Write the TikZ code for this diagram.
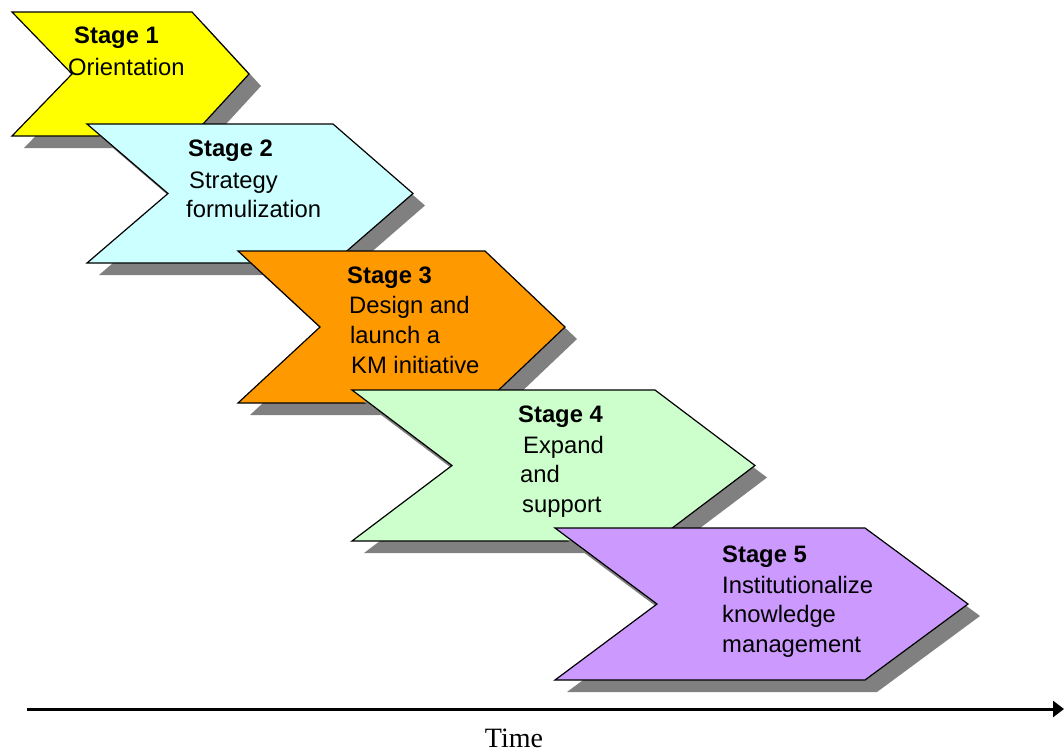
\documentclass[tikz,border=0pt]{standalone}
\usepackage{fontspec}
\setmainfont{Liberation Sans}
\newfontfamily\timefont{Liberation Serif}
\usetikzlibrary{arrows.meta}

\definecolor{stageone}{HTML}{FFFF00}
\definecolor{stagetwo}{HTML}{CCFFFF}
\definecolor{stagethree}{HTML}{FF9900}
\definecolor{stagefour}{HTML}{CCFFCC}
\definecolor{stagefive}{HTML}{CC99FF}
\definecolor{shadowgray}{HTML}{808080}

\tikzset{
  chevline/.style={draw=black, line width=1.2pt, line join=miter},
  chevshadow/.style={fill=shadowgray, shift={(12,12)}},
  stagetitle/.style={anchor=base west, inner sep=0pt, font=\fontsize{23.8}{28}\selectfont\bfseries},
  stageline/.style={anchor=base west, inner sep=0pt, font=\fontsize{23.8}{28}\selectfont},
  timeaxis/.style={line width=3pt, -{Triangle[length=11pt,width=16pt]}},
}

% #1 fill, #2 left, #3 notch, #4 right, #5 tip, #6 top, #7 bottom, #8 middle
\newcommand\stagechevron[8]{%
  \fill[chevshadow] (#2,#6) -- (#4,#6) -- (#5,#8) -- (#4,#7) -- (#2,#7) -- (#3,#8) -- cycle;
  \filldraw[fill=#1, chevline] (#2,#6) -- (#4,#6) -- (#5,#8) -- (#4,#7) -- (#2,#7) -- (#3,#8) -- cycle;
}

\begin{document}
\begin{tikzpicture}[x=1pt, y=-1pt]
  \useasboundingbox (0,0) rectangle (1064,753);

  % stage chevrons with drop shadows
  \stagechevron{stageone}{12}{72}{192}{249}{12}{136}{74}
  \stagechevron{stagetwo}{87}{168}{333}{413}{124}{263}{193.5}
  \stagechevron{stagethree}{238}{320}{485}{565}{251}{403}{327}
  \stagechevron{stagefour}{352}{452}{655}{755}{390}{541}{465.5}
  \stagechevron{stagefive}{555}{657}{865}{968}{528}{680}{604}

  % stage labels
  \node[stagetitle] (s1t) at (74,43) {Stage 1};
  \node[stageline]  (s1a) at (68,75) {Orientation};

  \node[stagetitle] (s2t) at (188,156) {Stage 2};
  \node[stageline]  (s2a) at (189,188) {Strategy};
  \node[stageline]  (s2b) at (186,217) {formulization};

  \node[stagetitle] (s3t) at (347,283) {Stage 3};
  \node[stageline]  (s3a) at (349,313) {Design and};
  \node[stageline]  (s3b) at (350,343) {launch a};
  \node[stageline]  (s3c) at (351,373) {KM initiative};

  \node[stagetitle] (s4t) at (518,422) {Stage 4};
  \node[stageline]  (s4a) at (523,453) {Expand};
  \node[stageline]  (s4b) at (520,482) {and};
  \node[stageline]  (s4c) at (522,512) {support};

  \node[stagetitle] (s5t) at (722,562) {Stage 5};
  \node[stageline]  (s5a) at (722,593) {Institutionalize};
  \node[stageline]  (s5b) at (722,622) {knowledge};
  \node[stageline]  (s5c) at (722,652) {management};

  % time axis
  \coordinate (axisstart) at (27,709);
  \coordinate (axisend) at (1064,709);
  \draw[timeaxis] (axisstart) -- (axisend);
  \node[anchor=base, inner sep=0pt, font=\timefont\fontsize{28}{32}\selectfont] (time) at (514,747) {Time};
\end{tikzpicture}
\end{document}
